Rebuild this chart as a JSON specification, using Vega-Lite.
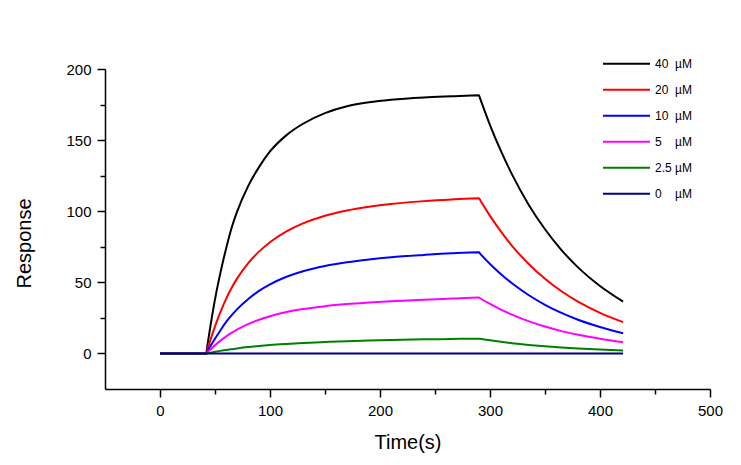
{
  "$schema": "https://vega.github.io/schema/vega-lite/v6.json",
  "width": 605,
  "height": 320,
  "autosize": {"type": "none"},
  "padding": {"left": 105, "top": 69, "right": 31, "bottom": 76},
  "background": "white",
  "config": {
    "view": {"stroke": null},
    "font": "Liberation Sans"
  },
  "datasets": {
    "sensorgram": [
      {"t": 0, "r": 0, "c": "40"}, {"t": 42, "r": 0, "c": "40"}, {"t": 43, "r": 5.2, "c": "40"}, {"t": 46, "r": 20, "c": "40"},
      {"t": 50, "r": 38, "c": "40"}, {"t": 55, "r": 57, "c": "40"}, {"t": 60, "r": 73.5, "c": "40"}, {"t": 65, "r": 88, "c": "40"},
      {"t": 70, "r": 99.5, "c": "40"}, {"t": 80, "r": 117.5, "c": "40"}, {"t": 90, "r": 131, "c": "40"}, {"t": 100, "r": 142, "c": "40"},
      {"t": 115, "r": 153.5, "c": "40"}, {"t": 130, "r": 161.5, "c": "40"}, {"t": 150, "r": 169, "c": "40"}, {"t": 170, "r": 173.8, "c": "40"},
      {"t": 190, "r": 176.6, "c": "40"}, {"t": 210, "r": 178.4, "c": "40"}, {"t": 240, "r": 180, "c": "40"}, {"t": 265, "r": 180.8, "c": "40"},
      {"t": 290, "r": 181.5, "c": "40"}, {"t": 291, "r": 179.3, "c": "40"}, {"t": 300, "r": 160.6, "c": "40"}, {"t": 310, "r": 142.2, "c": "40"},
      {"t": 320, "r": 125.9, "c": "40"}, {"t": 335, "r": 104.8, "c": "40"}, {"t": 350, "r": 87.3, "c": "40"}, {"t": 365, "r": 72.7, "c": "40"},
      {"t": 380, "r": 60.5, "c": "40"}, {"t": 400, "r": 47.4, "c": "40"}, {"t": 421, "r": 36.4, "c": "40"},

      {"t": 0, "r": 0, "c": "20"}, {"t": 42, "r": 0, "c": "20"}, {"t": 43, "r": 2.6, "c": "20"}, {"t": 46, "r": 9.9, "c": "20"},
      {"t": 50, "r": 19, "c": "20"}, {"t": 55, "r": 29.2, "c": "20"}, {"t": 60, "r": 38.2, "c": "20"}, {"t": 65, "r": 46, "c": "20"},
      {"t": 70, "r": 52.6, "c": "20"}, {"t": 80, "r": 63.4, "c": "20"}, {"t": 90, "r": 71.6, "c": "20"}, {"t": 100, "r": 78.2, "c": "20"},
      {"t": 115, "r": 85.8, "c": "20"}, {"t": 130, "r": 91.4, "c": "20"}, {"t": 150, "r": 96.8, "c": "20"}, {"t": 170, "r": 100.5, "c": "20"},
      {"t": 190, "r": 103.1, "c": "20"}, {"t": 210, "r": 105.1, "c": "20"}, {"t": 240, "r": 107.1, "c": "20"}, {"t": 265, "r": 108.3, "c": "20"},
      {"t": 290, "r": 109.2, "c": "20"}, {"t": 291, "r": 107.9, "c": "20"}, {"t": 300, "r": 96.7, "c": "20"}, {"t": 310, "r": 85.6, "c": "20"},
      {"t": 320, "r": 75.7, "c": "20"}, {"t": 335, "r": 63.1, "c": "20"}, {"t": 350, "r": 52.5, "c": "20"}, {"t": 365, "r": 43.7, "c": "20"},
      {"t": 380, "r": 36.4, "c": "20"}, {"t": 400, "r": 28.5, "c": "20"}, {"t": 421, "r": 22, "c": "20"},

      {"t": 0, "r": 0, "c": "10"}, {"t": 42, "r": 0, "c": "10"}, {"t": 43, "r": 1.4, "c": "10"}, {"t": 46, "r": 5.35, "c": "10"},
      {"t": 50, "r": 10.35, "c": "10"}, {"t": 55, "r": 16.35, "c": "10"}, {"t": 60, "r": 22, "c": "10"}, {"t": 65, "r": 26.75, "c": "10"},
      {"t": 70, "r": 31, "c": "10"}, {"t": 80, "r": 38.15, "c": "10"}, {"t": 90, "r": 43.95, "c": "10"}, {"t": 100, "r": 48.55, "c": "10"},
      {"t": 115, "r": 53.9, "c": "10"}, {"t": 130, "r": 57.8, "c": "10"}, {"t": 150, "r": 61.5, "c": "10"}, {"t": 170, "r": 64.1, "c": "10"},
      {"t": 190, "r": 66.05, "c": "10"}, {"t": 210, "r": 67.6, "c": "10"}, {"t": 240, "r": 69.25, "c": "10"}, {"t": 265, "r": 70.4, "c": "10"},
      {"t": 290, "r": 71.1, "c": "10"}, {"t": 291, "r": 70.2, "c": "10"}, {"t": 300, "r": 62.9, "c": "10"}, {"t": 310, "r": 55.7, "c": "10"},
      {"t": 320, "r": 49.3, "c": "10"}, {"t": 335, "r": 41.1, "c": "10"}, {"t": 350, "r": 34.2, "c": "10"}, {"t": 365, "r": 28.5, "c": "10"},
      {"t": 380, "r": 23.7, "c": "10"}, {"t": 400, "r": 18.6, "c": "10"}, {"t": 421, "r": 14.2, "c": "10"},

      {"t": 0, "r": 0, "c": "5"}, {"t": 42, "r": 0, "c": "5"}, {"t": 43, "r": 0.74, "c": "5"}, {"t": 46, "r": 2.9, "c": "5"},
      {"t": 50, "r": 5.75, "c": "5"}, {"t": 55, "r": 9, "c": "5"}, {"t": 60, "r": 11.85, "c": "5"}, {"t": 65, "r": 14.4, "c": "5"},
      {"t": 70, "r": 16.7, "c": "5"}, {"t": 80, "r": 20.6, "c": "5"}, {"t": 90, "r": 23.7, "c": "5"}, {"t": 100, "r": 26.2, "c": "5"},
      {"t": 115, "r": 29.1, "c": "5"}, {"t": 130, "r": 31.2, "c": "5"}, {"t": 150, "r": 33.25, "c": "5"}, {"t": 170, "r": 34.7, "c": "5"},
      {"t": 190, "r": 35.75, "c": "5"}, {"t": 210, "r": 36.65, "c": "5"}, {"t": 240, "r": 37.75, "c": "5"}, {"t": 265, "r": 38.55, "c": "5"},
      {"t": 290, "r": 39.3, "c": "5"}, {"t": 291, "r": 38.8, "c": "5"}, {"t": 300, "r": 34.8, "c": "5"}, {"t": 310, "r": 30.8, "c": "5"},
      {"t": 320, "r": 27.3, "c": "5"}, {"t": 335, "r": 22.7, "c": "5"}, {"t": 350, "r": 18.9, "c": "5"}, {"t": 365, "r": 15.7, "c": "5"},
      {"t": 380, "r": 13.1, "c": "5"}, {"t": 400, "r": 10.3, "c": "5"}, {"t": 421, "r": 7.8, "c": "5"},

      {"t": 0, "r": 0, "c": "2.5"}, {"t": 42, "r": 0, "c": "2.5"}, {"t": 43, "r": 0.14, "c": "2.5"}, {"t": 46, "r": 0.55, "c": "2.5"},
      {"t": 50, "r": 1.13, "c": "2.5"}, {"t": 55, "r": 1.8, "c": "2.5"}, {"t": 60, "r": 2.43, "c": "2.5"}, {"t": 65, "r": 2.98, "c": "2.5"},
      {"t": 70, "r": 3.5, "c": "2.5"}, {"t": 80, "r": 4.45, "c": "2.5"}, {"t": 90, "r": 5.23, "c": "2.5"}, {"t": 100, "r": 5.9, "c": "2.5"},
      {"t": 115, "r": 6.7, "c": "2.5"}, {"t": 130, "r": 7.4, "c": "2.5"}, {"t": 150, "r": 8.06, "c": "2.5"}, {"t": 170, "r": 8.64, "c": "2.5"},
      {"t": 190, "r": 9.1, "c": "2.5"}, {"t": 210, "r": 9.45, "c": "2.5"}, {"t": 240, "r": 9.9, "c": "2.5"}, {"t": 265, "r": 10.17, "c": "2.5"},
      {"t": 290, "r": 10.4, "c": "2.5"}, {"t": 291, "r": 10.27, "c": "2.5"}, {"t": 300, "r": 9.2, "c": "2.5"}, {"t": 310, "r": 8.15, "c": "2.5"},
      {"t": 320, "r": 7.21, "c": "2.5"}, {"t": 335, "r": 6, "c": "2.5"}, {"t": 350, "r": 5, "c": "2.5"}, {"t": 365, "r": 4.17, "c": "2.5"},
      {"t": 380, "r": 3.47, "c": "2.5"}, {"t": 400, "r": 2.72, "c": "2.5"}, {"t": 421, "r": 2.1, "c": "2.5"},

      {"t": 0, "r": 0, "c": "0"}, {"t": 421, "r": 0, "c": "0"}
    ]
  },
  "data": {"name": "sensorgram"},
  "mark": {"type": "line", "strokeWidth": 2, "interpolate": "monotone"},
  "encoding": {
    "x": {
      "field": "t",
      "type": "quantitative",
      "scale": {"domain": [-50, 500], "nice": false, "zero": false},
      "axis": {
        "values": [0, 50, 100, 150, 200, 250, 300, 350, 400, 450, 500],
        "labelExpr": "datum.value % 100 === 0 ? datum.label : ''",
        "tickSize": {"condition": {"test": "datum.value % 100 === 0", "value": 8}, "value": 5},
        "grid": false,
        "domainColor": "black",
        "domainWidth": 1.5,
        "tickColor": "black",
        "tickWidth": 1.5,
        "labelFontSize": 15,
        "labelColor": "black",
        "labelPadding": 6,
        "labelFlush": false,
        "labelOverlap": false,
        "title": "Time(s)",
        "titleFontSize": 20,
        "titleFontWeight": "normal",
        "titleColor": "black",
        "titleBaseline": "alphabetic",
        "titleY": 59
      }
    },
    "y": {
      "field": "r",
      "type": "quantitative",
      "scale": {"domain": [-25, 200], "nice": false, "zero": false},
      "axis": {
        "values": [0, 25, 50, 75, 100, 125, 150, 175, 200],
        "labelExpr": "datum.value % 50 === 0 ? datum.label : ''",
        "tickSize": {"condition": {"test": "datum.value % 50 === 0", "value": 8}, "value": 5},
        "grid": false,
        "domainColor": "black",
        "domainWidth": 1.5,
        "tickColor": "black",
        "tickWidth": 1.5,
        "labelFontSize": 15,
        "labelColor": "black",
        "labelPadding": 6,
        "labelFlush": false,
        "labelOverlap": false,
        "title": "Response",
        "titleFontSize": 20,
        "titleFontWeight": "normal",
        "titleColor": "black",
        "titleBaseline": "alphabetic",
        "titleX": -74.5,
        "titleY": 174
      }
    },
    "color": {
      "field": "c",
      "type": "nominal",
      "scale": {
        "domain": ["40", "20", "10", "5", "2.5", "0"],
        "range": ["#000000", "#ff0000", "#0000ff", "#ff00ff", "#008000", "#000080"]
      },
      "legend": {
        "orient": "none",
        "legendX": 497,
        "legendY": -17,
        "title": null,
        "padding": 0,
        "symbolType": "stroke",
        "symbolSize": 2209,
        "symbolStrokeWidth": 2,
        "clipHeight": 23.4,
        "rowPadding": 2,
        "labelFontSize": 12,
        "labelColor": "black",
        "labelOffset": 4,
        "labelExpr": "datum.label === '2.5' ? '2.5\u00a0µM' : ((datum.label === '5' || datum.label === '0') ? datum.label + '\u00a0\u00a0\u00a0\u00a0µM' : datum.label + '\u00a0\u00a0µM')"
      }
    }
  }
}
